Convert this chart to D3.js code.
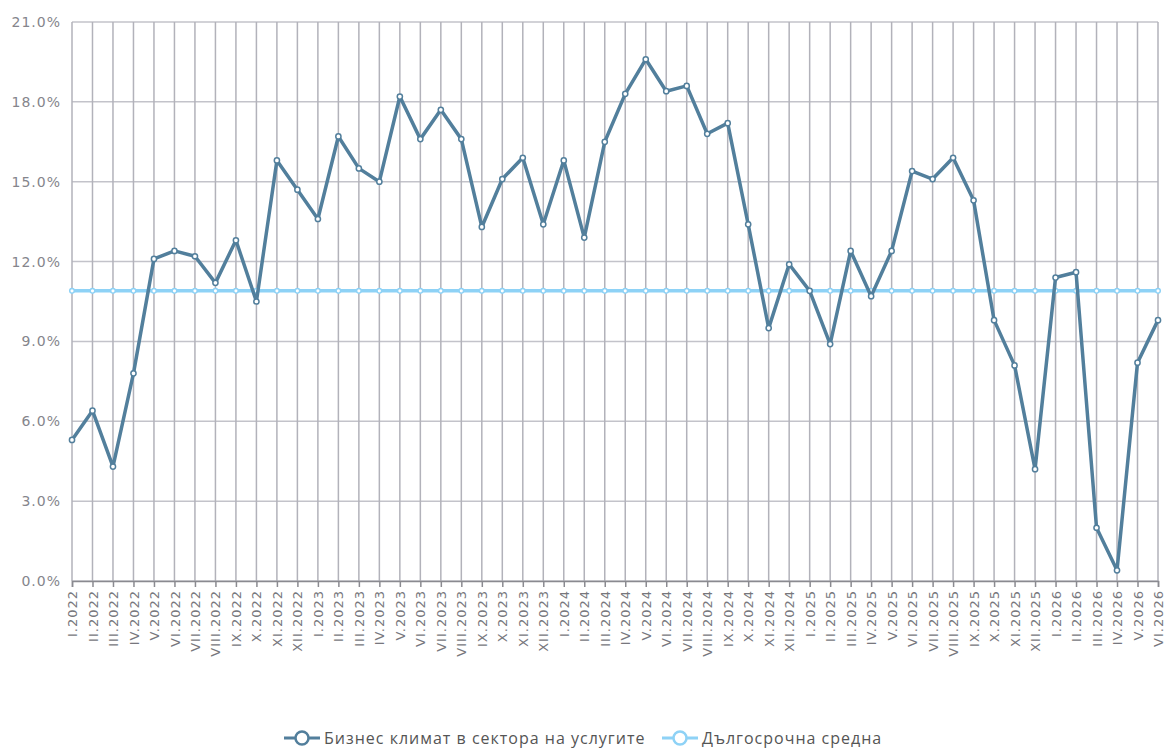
<!DOCTYPE html>
<html>
<head>
<meta charset="utf-8">
<script src="https://cdn.jsdelivr.net/npm/d3@7"></script>
<style>
  body { margin: 0; background: #fff; }
  svg text { font-family: "DejaVu Sans", sans-serif; }
</style>
</head>
<body>
<div id="chart"></div>
<script>
var years = [2022, 2023, 2024, 2025, 2026];
var romans = ["I", "II", "III", "IV", "V", "VI", "VII", "VIII", "IX", "X", "XI", "XII"];

// I.2022 ... VI.2026
var months = [];
years.forEach(function(y){
	romans.forEach(function(r, i){
		if (y === 2026 && i > 5) return;
		months.push(r + "." + y);
	});
});

var businessClimate = [
	5.3, 6.4, 4.3, 7.8, 12.1, 12.4, 12.2, 11.2, 12.8, 10.5, 15.8, 14.7,
	13.6, 16.7, 15.5, 15.0, 18.2, 16.6, 17.7, 16.6, 13.3, 15.1, 15.9, 13.4,
	15.8, 12.9, 16.5, 18.3, 19.6, 18.4, 18.6, 16.8, 17.2, 13.4, 9.5, 11.9,
	10.9, 8.9, 12.4, 10.7, 12.4, 15.4, 15.1, 15.9, 14.3, 9.8, 8.1, 4.2,
	11.4, 11.6, 2.0, 0.4, 8.2, 9.8
];
var longTermAvg = months.map(function(){ return 10.9; });

var yTicks = [0, 3, 6, 9, 12, 15, 18, 21];

var seriesNames = ["Бизнес климат в сектора на услугите", "Дългосрочна средна"];
var seriesColors = ["#527f9c", "#8ed2f6"];

var width = 1165, height = 749;
var margin = {left: 72, right: 7, top: 22, bottom: 168};

var svg = d3.select("#chart").append("svg")
	.attr("width", width)
	.attr("height", height);

var x = d3.scalePoint()
	.domain(months)
	.range([margin.left, width - margin.right]);

var y = d3.scaleLinear()
	.domain([0, 21])
	.range([height - margin.bottom, margin.top]);

// grid
svg.append("g")
	.selectAll("line.h")
	.data(yTicks)
	.enter().append("line")
	.attr("x1", margin.left).attr("x2", width - margin.right)
	.attr("y1", function(d){ return y(d); }).attr("y2", function(d){ return y(d); })
	.attr("stroke", "#c3c3ca").attr("stroke-width", 1.5);

svg.append("g")
	.selectAll("line.v")
	.data(months)
	.enter().append("line")
	.attr("x1", function(d){ return x(d); }).attr("x2", function(d){ return x(d); })
	.attr("y1", margin.top).attr("y2", y(0))
	.attr("stroke", "#b2b2ba").attr("stroke-width", 1.5);

// y axis labels
var yAxis = svg.append("g")
	.attr("transform", "translate(" + margin.left + ",0)")
	.call(d3.axisLeft(y).tickValues(yTicks).tickSize(0).tickPadding(11)
		.tickFormat(function(d){ return d.toFixed(1) + "%"; }));
yAxis.select(".domain").remove();
yAxis.selectAll("text")
	.attr("fill", "#85858c")
	.style("font-size", "14px")
	.style("letter-spacing", "1px");

// x axis
var xAxis = svg.append("g")
	.attr("transform", "translate(0," + y(0) + ")")
	.call(d3.axisBottom(x).tickSize(6).tickPadding(4));
xAxis.select(".domain").attr("stroke", "#8a8a90").attr("stroke-width", 1.5);
xAxis.selectAll(".tick line").attr("stroke", "#8a8a90").attr("stroke-width", 1.5);
xAxis.selectAll("text")
	.attr("fill", "#77777d")
	.style("font-size", "13px")
	.style("letter-spacing", "1px")
	.attr("transform", "rotate(-90)")
	.attr("text-anchor", "end")
	.attr("dy", "0.35em")
	.attr("x", -9)
	.attr("y", 0);

// lines
function drawSeries(values, color, width, r){
	var line = d3.line()
		.x(function(d, i){ return x(months[i]); })
		.y(function(d){ return y(d); });

	svg.append("path")
		.datum(values)
		.attr("d", line)
		.attr("fill", "none")
		.attr("stroke", color)
		.attr("stroke-width", width)
		.attr("stroke-linejoin", "round");

	svg.append("g")
		.selectAll("circle")
		.data(values)
		.enter().append("circle")
		.attr("cx", function(d, i){ return x(months[i]); })
		.attr("cy", function(d){ return y(d); })
		.attr("r", r)
		.attr("fill", "#fff")
		.attr("stroke", color)
		.attr("stroke-width", 1.5);
}

drawSeries(longTermAvg, seriesColors[1], 3.5, 2.3);
drawSeries(businessClimate, seriesColors[0], 3.5, 2.6);

// legend
var legend = svg.append("g").attr("transform", "translate(0,738)");
var lx = [284, 662];
seriesNames.forEach(function(name, i){
	var g = legend.append("g").attr("transform", "translate(" + lx[i] + ",0)");
	g.append("line")
		.attr("x1", 0).attr("x2", 36)
		.attr("y1", 0).attr("y2", 0)
		.attr("stroke", seriesColors[i]).attr("stroke-width", 3);
	g.append("circle")
		.attr("cx", 18).attr("cy", 0).attr("r", 6.5)
		.attr("fill", "#fff")
		.attr("stroke", seriesColors[i]).attr("stroke-width", 2.5);
	g.append("text")
		.attr("x", 40).attr("y", 0)
		.attr("dy", "0.35em")
		.attr("fill", "#555")
		.style("font-family", "'Open Sans', sans-serif")
		.style("font-size", "16px")
		.style("letter-spacing", "1px")
		.text(name);
});
</script>
</body>
</html>
